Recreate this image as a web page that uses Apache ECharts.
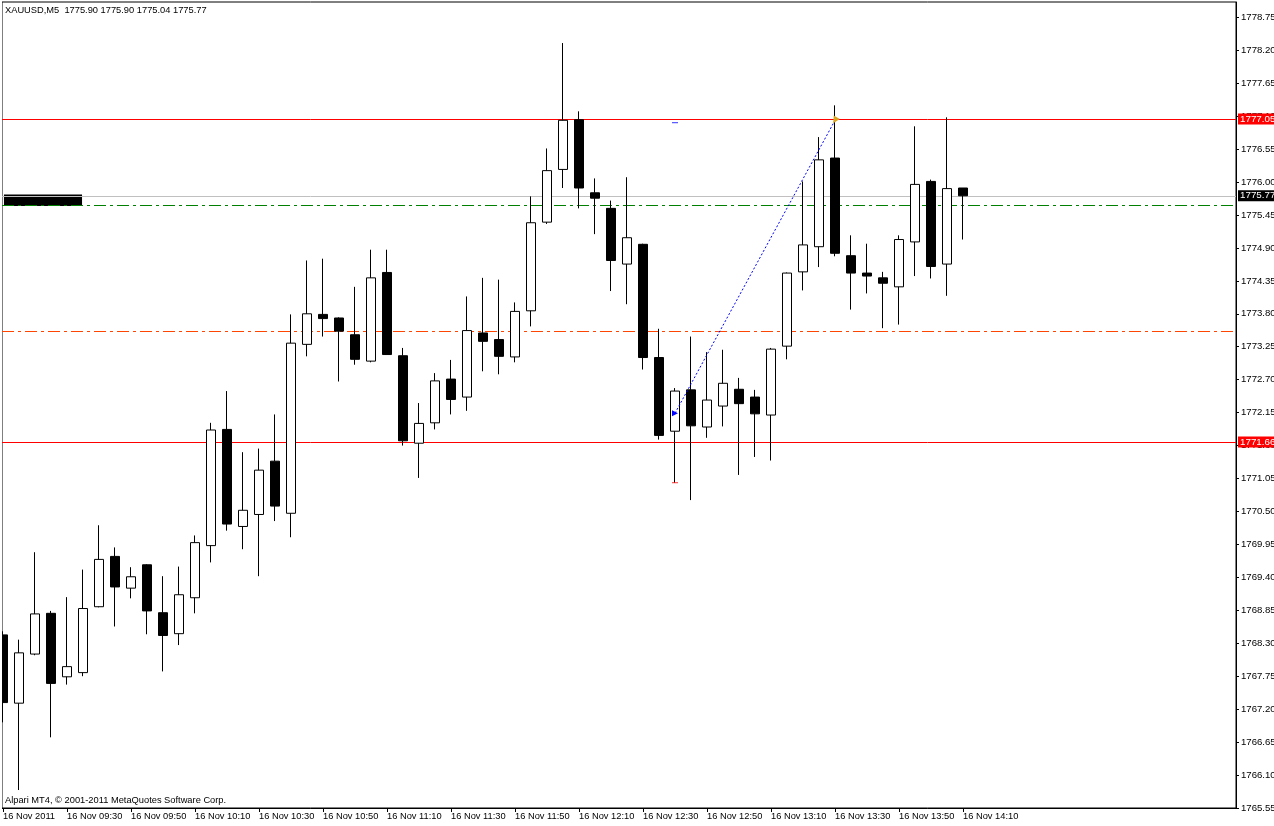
<!DOCTYPE html>
<html>
<head>
<meta charset="utf-8">
<style>html,body{margin:0;padding:0;background:#fff;}#c{width:1274px;height:826px;}</style>
<script src="https://cdn.jsdelivr.net/npm/echarts@6/dist/echarts.min.js"></script>
</head>
<body>
<div id="c"></div>
<script>
// 5-minute bars, 16 Nov 2011
var times = ['09:10','09:15','09:20','09:25','09:30','09:35','09:40','09:45','09:50','09:55',
  '10:00','10:05','10:10','10:15','10:20','10:25','10:30','10:35','10:40','10:45',
  '10:50','10:55','11:00','11:05','11:10','11:15','11:20','11:25','11:30','11:35',
  '11:40','11:45','11:50','11:55','12:00','12:05','12:10','12:15','12:20','12:25',
  '12:30','12:35','12:40','12:45','12:50','12:55','13:00','13:05','13:10','13:15',
  '13:20','13:25','13:30','13:35','13:40','13:45','13:50','13:55','14:00','14:05','14:10'];
var openP  = [1768.44,1767.30,1768.12,1768.80,1767.74,1767.81,1768.91,1769.75,1769.22,1769.61,
  1768.81,1768.46,1769.06,1769.93,1771.87,1770.25,1770.45,1771.34,1770.47,1773.29,
  1773.79,1773.73,1773.45,1773.01,1774.49,1773.10,1771.64,1771.98,1772.71,1772.41,
  1773.48,1773.37,1773.08,1773.85,1775.33,1776.21,1777.04,1775.82,1775.56,1774.63,
  1774.96,1773.07,1771.84,1772.53,1771.91,1772.26,1772.54,1772.41,1772.11,1773.26,
  1774.50,1774.92,1776.40,1774.77,1774.48,1774.40,1774.25,1775.00,1776.01,1774.63,1775.90];
var highP  = [1768.50,1768.36,1769.82,1768.84,1769.07,1769.53,1770.27,1769.90,1769.57,1769.62,
  1769.42,1769.58,1770.10,1771.98,1772.51,1771.49,1771.55,1772.12,1773.79,1774.69,
  1774.72,1773.74,1774.25,1774.87,1774.87,1773.23,1772.31,1772.81,1773.03,1774.09,
  1774.40,1774.37,1773.99,1775.76,1776.56,1778.32,1777.18,1776.06,1775.69,1776.08,
  1774.97,1773.55,1772.56,1773.42,1773.16,1773.20,1772.73,1772.53,1773.23,1774.49,
  1776.01,1776.75,1777.28,1775.11,1774.97,1774.50,1775.11,1776.93,1776.04,1777.08,1775.90];
var lowP   = [1766.98,1765.85,1768.10,1766.73,1767.61,1767.75,1768.90,1768.58,1769.05,1768.45,
  1767.83,1768.27,1768.80,1769.65,1770.18,1769.87,1769.42,1770.34,1770.07,1773.09,
  1773.42,1772.67,1772.95,1772.99,1773.12,1771.60,1771.06,1771.87,1772.12,1772.18,
  1772.84,1772.79,1772.99,1773.59,1775.30,1775.90,1775.56,1775.13,1774.18,1773.96,
  1772.87,1771.70,1770.98,1770.69,1771.73,1771.92,1771.11,1771.41,1771.35,1773.04,
  1774.19,1774.58,1774.76,1773.87,1774.14,1773.56,1773.62,1774.43,1774.39,1774.10,1775.04];
var closeP = [1767.31,1768.14,1768.79,1767.63,1767.91,1768.88,1769.70,1769.24,1769.41,1768.84,
  1768.43,1769.11,1769.98,1771.86,1770.29,1770.52,1771.19,1770.59,1773.31,1773.80,
  1773.72,1773.51,1773.04,1774.40,1773.12,1771.68,1771.97,1772.68,1772.37,1773.52,
  1773.34,1773.09,1773.84,1775.32,1776.19,1777.03,1775.90,1775.73,1774.69,1775.07,
  1773.07,1771.77,1772.51,1771.93,1772.36,1772.64,1772.30,1772.13,1773.21,1774.48,
  1774.95,1776.37,1774.81,1774.48,1774.43,1774.31,1775.04,1775.96,1774.59,1775.89,1775.77];

var xLabelIdx = [0,4,8,12,16,20,24,28,32,36,40,44,48,52,56,60];
var xLabels = ['16 Nov 2011','16 Nov 09:30','16 Nov 09:50','16 Nov 10:10','16 Nov 10:30','16 Nov 10:50',
  '16 Nov 11:10','16 Nov 11:30','16 Nov 11:50','16 Nov 12:10','16 Nov 12:30','16 Nov 12:50',
  '16 Nov 13:10','16 Nov 13:30','16 Nov 13:50','16 Nov 14:10'];
var yTicks = ['1778.75','1778.20','1777.65','1777.10','1776.55','1776.00','1775.45','1774.90','1774.35',
  '1773.80','1773.25','1772.70','1772.15','1771.60','1771.05','1770.50','1769.95','1769.40','1768.85',
  '1768.30','1767.75','1767.20','1766.65','1766.10','1765.55'];

// horizontal levels
var redLevels = [1777.05, 1771.66];
var bidLevel = 1775.77;
var greenLevel = 1775.62;
var orangeLevel = 1773.51;
// trend line (bar index, price)
var trendStart = [42, 1772.14];
var trendEnd = [52, 1777.03];
var tickMarks = [[42, 1776.99, '#0000ff'], [42, 1770.98, '#ff0000']];
// black label block at left
var blockX = [0.06, 4.94];
var blockY = [1775.60, 1775.79];

var FONT = "'Liberation Sans', Arial, sans-serif";
var FS = 9.3;

var candles = times.map(function (t, i) { return [i, openP[i], closeP[i], lowP[i], highP[i]]; });
var yTickVals = yTicks.map(Number);

var dashDot = [12, 4, 3, 4];

var chart = echarts.init(document.getElementById('c'), null, {renderer: 'canvas'});
chart.setOption({
  animation: false,
  backgroundColor: '#ffffff',
  title: [
    {text: 'XAUUSD,M5  1775.90 1775.90 1775.04 1775.77', left: 5, top: 6, padding: 0,
      textStyle: {fontSize: FS, fontWeight: 'normal', color: '#000', fontFamily: FONT}},
    {text: 'Alpari MT4, \u00a9 2001-2011 MetaQuotes Software Corp.', left: 5, top: 796, padding: 0,
      textStyle: {fontSize: FS, fontWeight: 'normal', color: '#000', fontFamily: FONT}}
  ],
  grid: {left: 2, right: 38, top: 2, bottom: 18, show: true, borderColor: '#000', borderWidth: 1,
    backgroundColor: '#fff', containLabel: false, outerBoundsMode: 'none'},
  xAxis: {
    type: 'value', min: -0.0625, max: 77.0625, position: 'bottom',
    axisLine: {show: true, onZero: false, lineStyle: {color: '#000', width: 1}},
    axisTick: {show: true, length: 4, customValues: xLabelIdx, lineStyle: {color: '#000'}},
    axisLabel: {customValues: xLabelIdx, align: 'left', margin: 4, padding: 0,
      color: '#000', fontSize: FS, fontFamily: FONT,
      formatter: function (v) { var k = xLabelIdx.indexOf(Math.round(v)); return k >= 0 ? xLabels[k] : ''; }},
    splitLine: {show: false}
  },
  yAxis: {
    type: 'value', position: 'right', min: 1765.55, max: 1779.005, scale: true,
    axisLine: {show: true, onZero: false, lineStyle: {color: '#000', width: 1}},
    axisTick: {show: true, length: 3, customValues: yTickVals, lineStyle: {color: '#000'}},
    axisLabel: {customValues: yTickVals, margin: 5, color: '#000', fontSize: 9.6, fontFamily: FONT,
      formatter: function (v) { return v.toFixed(2); }},
    splitLine: {show: false}
  },
  series: [
    {
      type: 'candlestick', data: candles, encode: {x: 0, y: [1, 2, 3, 4]}, barWidth: 10,
      itemStyle: {color: '#ffffff', color0: '#000000', borderColor: '#000000', borderColor0: '#000000', borderWidth: 1},
      z: 5,
      markLine: {
        silent: true, symbol: ['none', 'none'], animation: false,
        label: {position: 'end', distance: 2, fontSize: 9.8, fontFamily: FONT, padding: [1, 2, 0, 2],
          formatter: function (p) { return p.value.toFixed(2); }},
        data: [
          {yAxis: greenLevel, lineStyle: {color: '#008000', type: dashDot, width: 1}, label: {show: false}},
          {yAxis: orangeLevel, lineStyle: {color: '#ff4500', type: dashDot, width: 1}, label: {show: false}},
          {yAxis: bidLevel, lineStyle: {color: '#c0c0c0', type: 'solid', width: 1},
            label: {show: true, color: '#fff', backgroundColor: '#000'}},
          {yAxis: redLevels[0], lineStyle: {color: '#ff0000', type: 'solid', width: 1},
            label: {show: true, color: '#fff', backgroundColor: '#ff0000'}},
          {yAxis: redLevels[1], lineStyle: {color: '#ff0000', type: 'solid', width: 1},
            label: {show: true, color: '#fff', backgroundColor: '#ff0000'}}
        ]
      },
      markArea: {
        silent: true,
        itemStyle: {color: '#000', opacity: 1},
        data: [[{coord: [blockX[0], blockY[1]]}, {coord: [blockX[1], blockY[0]]}]]
      }
    },
    {
      type: 'line', z: 6, silent: true,
      data: [
        {value: trendStart, symbol: 'triangle', symbolSize: 6, symbolRotate: -90, itemStyle: {color: '#0000ff'}},
        {value: trendEnd, symbol: 'triangle', symbolSize: 7, symbolRotate: 150, itemStyle: {color: '#daa520'}}
      ],
      lineStyle: {color: '#0000ff', width: 1, type: [2, 2]}
    },
    {
      type: 'scatter', z: 6, silent: true, symbol: 'rect', symbolSize: [6, 1],
      data: tickMarks.map(function (m) { return {value: [m[0], m[1]], itemStyle: {color: m[2]}}; })
    }
  ],
  graphic: [
    {type: 'rect', shape: {x: 0, y: 0, width: 2, height: 826}, style: {fill: '#fff'}, z: 100, silent: true}
  ]
});
</script>
</body>
</html>
